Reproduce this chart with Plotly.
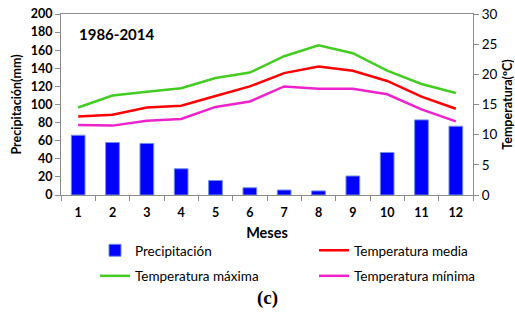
import plotly.graph_objects as go

months = [str(i) for i in range(1, 13)]
precip = [66, 58, 57, 29, 16, 8, 5.5, 4.5, 21, 47, 83, 76]
t_media = [13.0, 13.3, 14.5, 14.8, 16.4, 18.0, 20.2, 21.3, 20.6, 18.9, 16.3, 14.3]
t_max = [14.5, 16.5, 17.1, 17.7, 19.4, 20.3, 23.0, 24.8, 23.5, 20.6, 18.4, 16.9]
t_min = [11.6, 11.5, 12.3, 12.6, 14.6, 15.5, 18.0, 17.6, 17.6, 16.7, 14.2, 12.2]

FONT = "Lato"
fig = go.Figure()
fig.add_trace(go.Bar(x=months, y=precip, name="Precipitación", width=0.4,
                     legend="legend", legendgroup="a",
                     marker=dict(color="#0000FF", line=dict(color="#6f8fe8", width=1))))
fig.add_trace(go.Scatter(x=months, y=t_media, name="Temperatura media", yaxis="y2",
                         legend="legend2", legendgroup="b",
                         mode="lines", line=dict(color="#FF0000", width=2.5)))
fig.add_trace(go.Scatter(x=months, y=t_max, name="Temperatura máxima", yaxis="y2",
                         legend="legend", legendgroup="c",
                         mode="lines", line=dict(color="#44CC22", width=2.5)))
fig.add_trace(go.Scatter(x=months, y=t_min, name="Temperatura mínima", yaxis="y2",
                         legend="legend2", legendgroup="d",
                         mode="lines", line=dict(color="#EE22CC", width=2.5)))

axis_line = "#8c8c8c"
leg_common = dict(orientation="v", xanchor="left", yanchor="top", itemwidth=30,
                  tracegroupgap=5, font=dict(family=FONT, size=13.5, color="black"),
                  bgcolor="rgba(0,0,0,0)")
leg_y = (195 - 235) / 181
fig.update_layout(
    width=515, height=321,
    margin=dict(l=61, r=42, t=14, b=126, autoexpand=False),
    paper_bgcolor="white", plot_bgcolor="white",
    font=dict(family=FONT, size=12, color="black"),
    showlegend=True,
    bargap=0.6,
    xaxis=dict(type="category", showgrid=False, showline=True, linecolor=axis_line,
               mirror=True, ticks="outside", ticklen=5, tickcolor=axis_line,
               tickson="boundaries", ticklabelstandoff=6,
               tickfont=dict(family=FONT, size=12.5, color="black", weight="bold"),
               title=dict(text="<b>Meses</b>", font=dict(size=14.5), standoff=8)),
    yaxis=dict(range=[0, 200], dtick=20, showgrid=False, showline=True, linecolor=axis_line,
               ticks="outside", ticklen=5, tickcolor=axis_line, zeroline=False,
               tickfont=dict(family=FONT, size=12.5, color="black", weight="bold"),
               title=dict(text="<b>Precipitación(mm)</b>", font=dict(size=12.5), standoff=6)),
    yaxis2=dict(range=[0, 30], dtick=5, overlaying="y", side="right", showgrid=False,
                showline=True, linecolor=axis_line, ticks="outside", ticklen=5,
                tickcolor=axis_line, zeroline=False,
                tickfont=dict(family=FONT, size=13.5, color="black"),
                title=dict(text="<b>Temperatura(ºC)</b>", font=dict(size=12.5), standoff=8)),
    legend=dict(x=(95 - 61) / 412, y=leg_y, **leg_common),
    legend2=dict(x=(314 - 61) / 412, y=leg_y, **leg_common),
    annotations=[
        dict(text="<b>1986-2014</b>", x=0.04, y=0.89, xref="paper", yref="paper",
             xanchor="left", yanchor="middle", showarrow=False, font=dict(size=15)),
        dict(text="<b>(c)</b>", x=0.5, y=(195 - 298) / 181, xref="paper", yref="paper",
             xanchor="center", yanchor="middle", showarrow=False,
             font=dict(family="Liberation Serif", size=19)),
    ],
)

fig.write_html("out.html")
